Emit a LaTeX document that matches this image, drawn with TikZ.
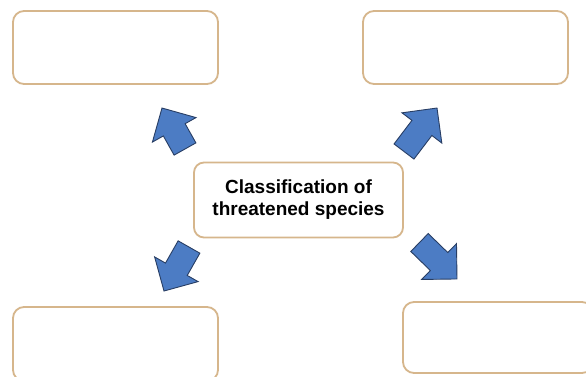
\documentclass[tikz,border=0pt]{standalone}
\usepackage{fontspec}
\setmainfont{Liberation Sans}
\definecolor{boxline}{RGB}{214,182,140}
\definecolor{arrowfill}{RGB}{76,124,196}
\definecolor{arrowline}{RGB}{40,62,100}
\tikzset{
  emptybox/.style={draw=boxline, line width=1.8pt, rounded corners=11pt, fill=white, inner sep=0pt},
  blockarrow/.style={fill=arrowfill, draw=arrowline, line width=0.9pt, line join=miter},
  centerbox/.style={draw=boxline, line width=1.8pt, rounded corners=10pt, fill=white,
    minimum width=209pt, minimum height=75pt, align=center, inner sep=0pt,
    font=\fontsize{19}{22}\selectfont\bfseries}
}
\newcommand{\blkarrow}[4]{% tail x, tail y, angle, length
  \begin{scope}[shift={(#1,#2)}, rotate=#3]
    \path[blockarrow] (0,-12.5) -- (#4-25,-12.5) -- (#4-25,-25) -- (#4,0) -- (#4-25,25) -- (#4-25,12.5) -- (0,12.5) -- cycle;
  \end{scope}}
\begin{document}
\begin{tikzpicture}[x=1pt,y=-1pt]
\useasboundingbox (0,0) rectangle (586,376);
\fill[white] (0,0) rectangle (586,376);
\node[emptybox, minimum width=205pt, minimum height=73pt] (tl) at (115.5,47.5) {};
\node[emptybox, minimum width=205pt, minimum height=73pt] (tr) at (465.5,47.5) {};
\node[emptybox, minimum width=205pt, minimum height=74pt] (bl) at (115.5,344) {};
\node[emptybox, minimum width=190pt, minimum height=71pt] (br) at (498,337.5) {};
\node[centerbox] (c) at (298.5,200) {Classification of\\threatened species};
\blkarrow{185}{149}{119.3}{47}
\blkarrow{404}{151.5}{52.8}{54.6}
\blkarrow{189}{247}{240.4}{50.6}
\blkarrow{419.5}{242.5}{-44.2}{52.3}
\end{tikzpicture}
\end{document}
